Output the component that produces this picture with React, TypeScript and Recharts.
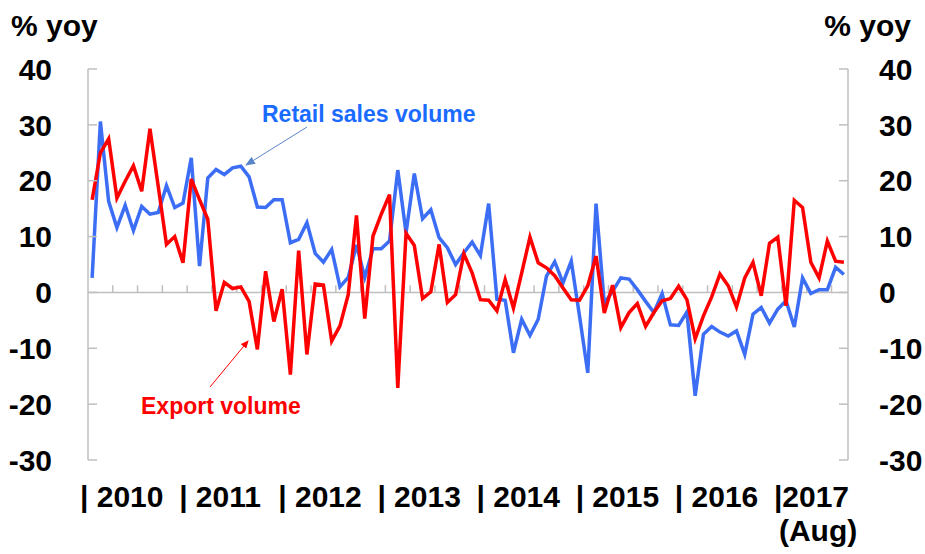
import React from 'react';
import { LineChart, Line, XAxis, YAxis, ReferenceLine } from 'recharts';

// monthly, Jan 2010 - Aug 2017, % yoy
const retailSales = [
    2.6, 30.6, 16.3, 11.6, 15.6, 11.1, 15.4, 14.0, 14.3, 19.1, 15.2, 16.0,
    24.1, 4.7, 20.5, 22.0, 21.1, 22.3, 22.6, 20.7, 15.3, 15.2, 16.6, 16.6,
    8.9, 9.5, 12.5, 7.0, 5.4, 7.7, 1.0, 2.7, 8.5, 2.7, 7.8, 7.8,
    9.2, 21.9, 10.7, 21.3, 13.2, 14.8, 9.8, 8.0, 5.0, 7.1, 9.0, 6.6,
    15.9, -1.2, -1.4, -10.8, -4.8, -7.7, -4.8, 2.9, 5.5, 1.7, 5.6, -4.2,
    -14.4, 15.9, -2.0, 0.2, 2.6, 2.4, 0.5, -1.6, -3.6, -0.2, -5.8, -5.9,
    -3.5, -18.5, -7.5, -6.1, -7.1, -7.8, -6.9, -11.1, -3.9, -2.7, -5.5, -3.0,
    -1.5, -6.2, 2.6, -0.2, 0.5, 0.5, 4.5, 3.2,
];

const exportVolume = [
    16.6, 25.0, 27.5, 16.9, 19.9, 22.7, 18.1, 29.3, 19.0, 8.6, 10.0, 5.3,
    20.3, 16.6, 13.1, -3.3, 1.8, 0.7, 1.0, -1.6, -10.2, 3.8, -5.2, 0.6,
    -14.7, 7.5, -11.1, 1.5, 1.3, -8.7, -6.0, -0.4, 13.8, -4.7, 10.1, 14.0,
    17.5, -17.1, 10.6, 8.4, -1.1, 0.1, 8.6, -1.8, -0.4, 6.9, 3.5, -1.3,
    -1.4, -3.3, 2.3, -2.8, 3.5, 9.9, 5.3, 4.4, 3.0, 0.8, -1.3, -1.4,
    1.2, 6.5, -3.7, 1.3, -6.3, -3.6, -2.0, -6.1, -3.6, -1.5, -1.1, 1.1,
    -1.3, -8.3, -4.2, -0.8, 3.3, 1.2, -2.6, 2.6, 5.4, -0.6, 8.8, 9.9,
    -2.4, 16.5, 15.2, 5.4, 2.6, 9.2, 5.6, 5.4,
];

const years = [2010, 2011, 2012, 2013, 2014, 2015, 2016, 2017];
const yearLabels = ['| 2010', '| 2011', '| 2012', '| 2013', '| 2014', '| 2015', '| 2016', '|2017'];
const yTicks = [-30, -20, -10, 0, 10, 20, 30, 40];

const months = retailSales.map((_, i) => `${years[Math.floor(i / 12)]}-${String((i % 12) + 1).padStart(2, '0')}`);
const data = months.map((m, i) => ({ idx: i, month: m, retail: retailSales[i], exports: exportVolume[i] }));

// year boundaries sit half a month before each January
const yearTicks = years.map((_, k) => k * 12 - 0.5);
const quarterTicks = Array.from({ length: 30 }, (_, k) => 2.5 + k * 3);

const FONT = '"Liberation Sans", Arial, sans-serif';
const BLUE = '#3C6EF5';
const RED = '#FF0000';
const GRID = '#BFBFBF';

const YearTick = (props: any) => {
    const { x, y, payload, index } = props;
    return (
        <text x={x} y={y} dx={-8} dy={39} textAnchor="start" fontFamily={FONT} fontSize={30} fontWeight="bold" fill="#000">
            {yearLabels[index] ?? payload.value}
            {index === yearLabels.length - 1 && (
                <tspan x={x} dx={-3} dy={34}>(Aug)</tspan>
            )}
        </text>
    );
};

const yTickStyle = { fontFamily: FONT, fontSize: 30, fontWeight: 'bold', fill: '#000' };

const App = () => {
    return (
        <div style={{ position: 'absolute', left: 0, top: 0, width: 925, height: 554, background: '#fff' }}>
            <LineChart width={925} height={554} data={data} margin={{ top: 69, right: 0, bottom: 0, left: 0 }}>
                <XAxis
                    dataKey="idx"
                    type="number"
                    domain={[-0.5, 91.5]}
                    ticks={yearTicks}
                    interval={0}
                    height={94}
                    axisLine={false}
                    tickLine={false}
                    tick={<YearTick />}
                />
                <YAxis
                    yAxisId="left"
                    domain={[-30, 40]}
                    ticks={yTicks}
                    interval={0}
                    width={88}
                    tickSize={-9}
                    tickMargin={45}
                    axisLine={{ stroke: GRID, strokeWidth: 1.5 }}
                    tickLine={{ stroke: GRID, strokeWidth: 1.5 }}
                    tick={yTickStyle}
                />
                <YAxis
                    yAxisId="right"
                    orientation="right"
                    domain={[-30, 40]}
                    ticks={yTicks}
                    interval={0}
                    width={77}
                    tickSize={-9}
                    tickMargin={40}
                    axisLine={{ stroke: GRID, strokeWidth: 1.5 }}
                    tickLine={{ stroke: GRID, strokeWidth: 1.5 }}
                    tick={yTickStyle}
                />
                <ReferenceLine yAxisId="left" y={0} stroke={GRID} strokeWidth={1.5} />
                {quarterTicks.map((q) => (
                    <ReferenceLine
                        key={`q-${q}`}
                        yAxisId="left"
                        segment={[{ x: q, y: 0 }, { x: q, y: 1.3 }]}
                        stroke={GRID}
                        strokeWidth={1.5}
                    />
                ))}
                <Line yAxisId="left" type="linear" dataKey="retail" stroke={BLUE} strokeWidth={3.5} dot={false} isAnimationActive={false} />
                <Line yAxisId="right" type="linear" dataKey="exports" stroke={RED} strokeWidth={3.5} dot={false} isAnimationActive={false} />
            </LineChart>

            {/* titles + annotations */}
            <svg width={925} height={554} style={{ position: 'absolute', left: 0, top: 0, pointerEvents: 'none' }}>
                <defs>
                    <marker id="arrBlue" markerWidth="10" markerHeight="8" refX="9" refY="4" orient="auto" markerUnits="userSpaceOnUse">
                        <path d="M0,0 L10,4 L0,8 z" fill="#5A86C8" />
                    </marker>
                    <marker id="arrRed" markerWidth="8" markerHeight="7" refX="7" refY="3.5" orient="auto" markerUnits="userSpaceOnUse">
                        <path d="M0,0 L8,3.5 L0,7 z" fill={RED} />
                    </marker>
                </defs>
                <text x={11} y={36} fontFamily={FONT} fontSize={30} fontWeight="bold" fill="#000">% yoy</text>
                <text x={911} y={36} textAnchor="end" fontFamily={FONT} fontSize={30} fontWeight="bold" fill="#000">% yoy</text>
                <text x={262} y={122} fontFamily={FONT} fontSize={23} fontWeight="bold" fill="#1A6BFF">Retail sales volume</text>
                <line x1={307} y1={127} x2={246} y2={165} stroke="#5A86C8" strokeWidth={1} markerEnd="url(#arrBlue)" />
                <text x={141} y={414} fontFamily={FONT} fontSize={23} fontWeight="bold" fill={RED}>Export volume</text>
                <line x1={210} y1={387} x2={248} y2={341} stroke={RED} strokeWidth={1} markerEnd="url(#arrRed)" />
            </svg>
        </div>
    );
};

export default App;
